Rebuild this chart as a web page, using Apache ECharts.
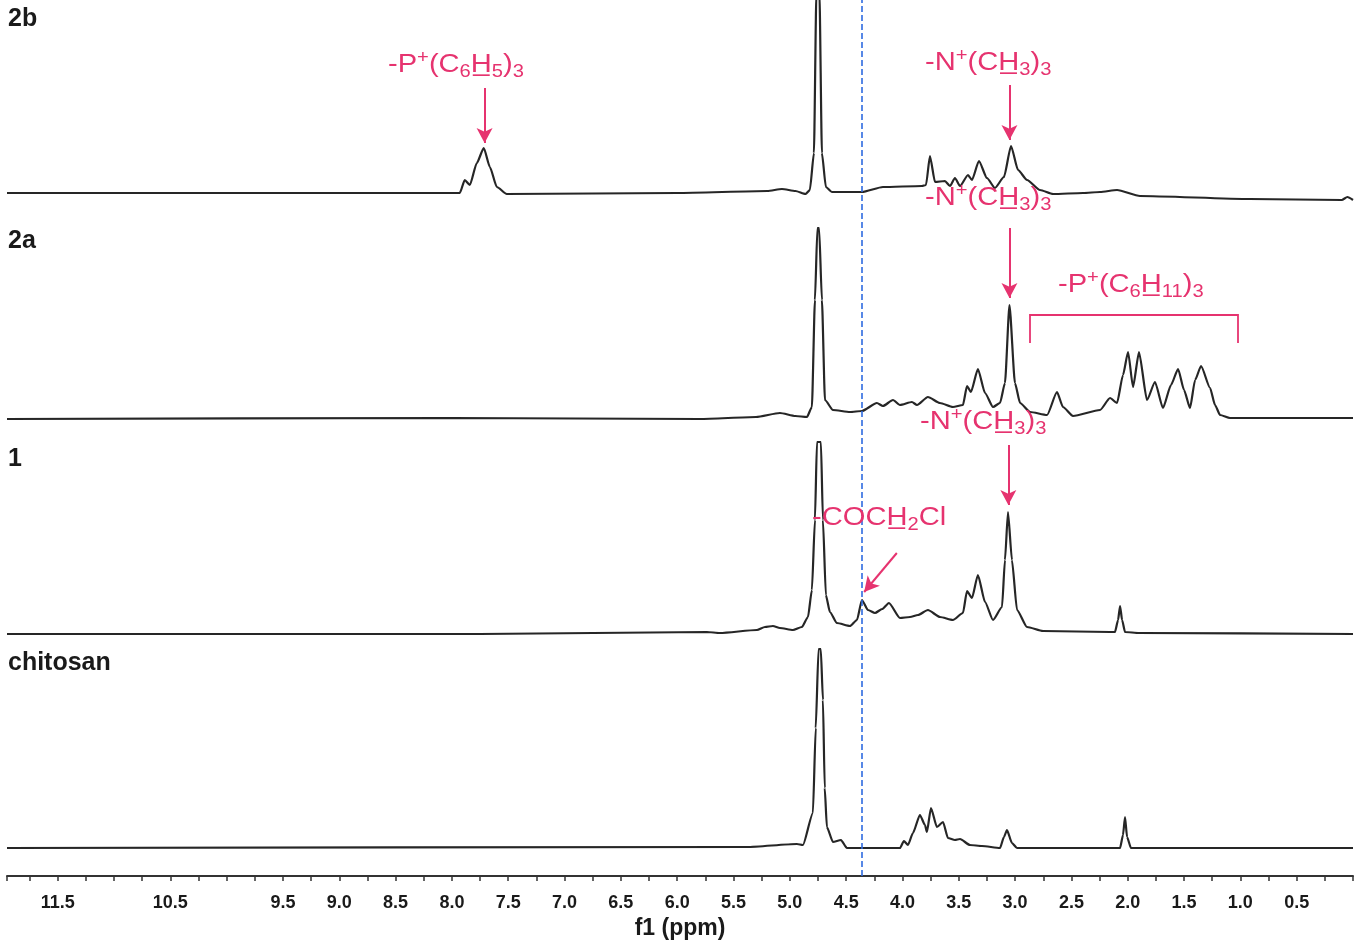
<!DOCTYPE html>
<html>
<head>
<meta charset="utf-8">
<title>1H NMR chitosan</title>
<script src="https://cdn.jsdelivr.net/npm/echarts@6/dist/echarts.min.js"></script>
<style>
  html, body { margin: 0; padding: 0; background: #fff; }
  #chart { width: 1363px; height: 946px; }
</style>
</head>
<body>
<div id="chart"></div>
<script>
// tick labels that show on the ppm axis (11.0 and 10.0 are missing in the original)
const tickLabels = ['11.5', '10.5', '9.5', '9.0', '8.5', '8.0', '7.5', '7.0', '6.5', '6.0', '5.5',
  '5.0', '4.5', '4.0', '3.5', '3.0', '2.5', '2.0', '1.5', '1.0', '0.5'];

// trace names, top to bottom, and where each baseline sits on the hidden y scale
const traceNames = ['2b', '2a', '1', 'chitosan'];
const offsets = [683, 458, 243, 28];

// 2b
const ppm2b = [11.95, 9.0, 7.93, 7.886, 7.841, 7.779, 7.717, 7.663, 7.601, 7.513, 6.0, 5.2, 5.07, 4.95, 4.86,
  4.822, 4.786, 4.764, 4.737, 4.715, 4.680, 4.626, 4.555, 4.360, 4.173, 3.827, 3.791, 3.756, 3.711, 3.623,
  3.578, 3.534, 3.489, 3.418, 3.383, 3.321, 3.250, 3.179, 3.099, 3.036, 2.974, 2.894, 2.779, 2.663, 2.397,
  2.246, 2.095, 1.891, 0.914, 0.10, 0.05, 0.0];
const int2b = [0, 0, 0, 13, 8, 30, 45, 26, 6, -1, 0, 2, 4, 2, -1,
  3, 40, 200, 200, 40, 6, 1, 1, 1, 6, 7, 8, 37, 11, 12,
  7, 15, 7, 18, 13, 32, 15, 5, 16, 47, 23, 13, 3, -1, 0,
  1, 3, -3, -6, -7, -4, -7];

// 2a
const ppm2a = [11.95, 8.0, 5.798, 5.30, 5.088, 4.95, 4.848, 4.804, 4.777, 4.755, 4.740, 4.715, 4.688, 4.617,
  4.466, 4.360, 4.227, 4.173, 4.084, 4.022, 3.916, 3.871, 3.774, 3.667, 3.552, 3.463, 3.427, 3.392, 3.330,
  3.267, 3.196, 3.134, 3.090, 3.050, 3.001, 2.956, 2.867, 2.716, 2.628, 2.575, 2.486, 2.246, 2.157, 2.095,
  2.042, 1.997, 1.953, 1.900, 1.829, 1.758, 1.687, 1.616, 1.553, 1.500, 1.447, 1.402, 1.349, 1.269, 1.225,
  1.180, 1.092, 0.0];
const int2a = [-1, 0, -1, 1, 5, 2, 1, 11, 118, 190, 190, 118, 18, 8,
  6, 7, 15, 12, 18, 13, 16, 13, 21, 15, 11, 13, 32, 26, 49,
  25, 11, 15, 35, 113, 35, 15, 6, 3, 26, 11, 2, 8, 20, 15,
  43, 66, 31, 66, 18, 36, 10, 33, 49, 28, 10, 38, 52, 30, 13,
  3, 0, 0];

// 1
const ppm1 = [11.95, 7.752, 5.736, 5.621, 5.292, 5.221, 5.150, 5.088, 4.972, 4.893, 4.839, 4.804, 4.777,
  4.759, 4.724, 4.706, 4.680, 4.644, 4.582, 4.466, 4.404, 4.360, 4.306, 4.244, 4.180, 4.120, 4.022, 3.933,
  3.862, 3.774, 3.667, 3.552, 3.463, 3.427, 3.383, 3.330, 3.267, 3.196, 3.116, 3.090, 3.063, 3.028, 2.983,
  2.894, 2.752, 2.157, 2.113, 2.086, 2.068, 2.050, 2.024, 1.900, 0.0];
const int1 = [-1, -1, 1, 0, 3, 6, 7, 5, 3, 6, 16, 43, 113,
  191, 191, 113, 38, 21, 10, 7, 13, 33, 23, 20, 24, 30, 15, 16,
  18, 23, 16, 13, 20, 42, 35, 58, 31, 13, 26, 73, 121, 73, 23,
  6, 2, 1, 1, 13, 27, 13, 1, 0, -1];

// chitosan
const ppmC = [11.95, 5.381, 4.937, 4.884, 4.795, 4.770, 4.745, 4.725, 4.706, 4.690, 4.671, 4.617, 4.546,
  4.493, 4.022, 3.987, 3.951, 3.907, 3.845, 3.800, 3.783, 3.747, 3.694, 3.640, 3.596, 3.534, 3.489, 3.401,
  3.294, 3.134, 3.099, 3.072, 3.028, 2.983, 2.068, 2.042, 2.024, 2.006, 1.971, 0.0];
const intC = [0, 1, 4, 3, 35, 120, 199, 199, 148, 60, 21, 6, 8,
  0, 0, 7, 3, 15, 33, 23, 16, 40, 21, 26, 10, 8, 9, 3,
  2, 0, 11, 18, 5, 0, 0, 13, 31, 11, 0, 0];

const ppmAll = [ppm2b, ppm2a, ppm1, ppmC];
const intAll = [int2b, int2a, int1, intC];

// dashed reference line and arrows ([ppm, y] pairs on the same scale)
const refLine = 4.36;
const arrows = [
  [[7.71, 788], [7.71, 733]],
  [[3.05, 791], [3.05, 736]],
  [[3.05, 648], [3.05, 578]],
  [[3.06, 431], [3.06, 371]],
  [[4.05, 323], [4.34, 284]]
];
const bracket = [
  [[2.87, 561], [1.02, 561]],
  [[2.87, 562], [2.87, 533]],
  [[1.02, 562], [1.02, 533]]
];

const pink = '#e6336f';
const chart = echarts.init(document.getElementById('chart'));

const rich = {
  b: { fontSize: 26, fontFamily: 'Liberation Sans', fill: pink, lineHeight: 32 },
  sup: { fontSize: 18, fontFamily: 'Liberation Sans', fill: pink, lineHeight: 14, verticalAlign: 'top' },
  sub: { fontSize: 18, fontFamily: 'Liberation Sans', fill: pink, lineHeight: 14, verticalAlign: 'bottom' }
};
const nme3 = '{b|-N}{sup|+}{b|(CH\u0332}{sub|3}{b|)}{sub|3}';
function note(x, y, txt) {
  return { type: 'text', left: x, top: y, scaleX: 1.12, silent: true, z: 10,
    style: { text: txt, rich: rich } };
}
function lbl(y, txt) {
  return { type: 'text', left: 8, top: y, silent: true, style: { text: txt, fill: '#1a1a1a',
    font: 'bold 25px "Liberation Sans"' } };
}

const series = traceNames.map(function (name, k) {
  return {
    name: name,
    type: 'line',
    showSymbol: false,
    smooth: 0.2,
    smoothMonotone: 'x',
    clip: true,
    lineStyle: { color: '#262626', width: 2.2 },
    data: ppmAll[k].map(function (p, i) { return [p, offsets[k] + intAll[k][i]]; })
  };
});

// annotation lines go on the chitosan series
series[3].markLine = {
  silent: true,
  animation: false,
  label: { show: false },
  data: [
    [{ xAxis: refLine, yAxis: 0, symbol: 'none', lineStyle: { color: '#2f6be0', width: 1.6, type: [6, 3] } },
      { xAxis: refLine, yAxis: 876, symbol: 'none' }]
  ].concat(arrows.map(function (a) {
    return [{ coord: a[0], symbol: 'none', lineStyle: { color: pink, width: 2, type: 'solid' } },
      { coord: a[1], symbol: 'arrow', symbolSize: [12, 15] }];
  })).concat(bracket.map(function (a) {
    return [{ coord: a[0], symbol: 'none', lineStyle: { color: pink, width: 1.8, type: 'solid' } },
      { coord: a[1], symbol: 'none' }];
  }))
};

chart.setOption({
  animation: false,
  backgroundColor: '#fff',
  grid: { left: 7, right: 10, top: 0, bottom: 70 },
  xAxis: {
    type: 'value',
    inverse: true,
    min: 0,
    max: 11.95,
    interval: 0.25,
    name: 'f1 (ppm)',
    nameLocation: 'middle',
    nameGap: 41,
    nameTextStyle: { fontSize: 23, fontWeight: 'bold', color: '#1a1a1a', fontFamily: 'Liberation Sans' },
    axisLine: { lineStyle: { color: '#333', width: 2 } },
    axisTick: { length: 5, lineStyle: { color: '#333', width: 1.5 } },
    axisLabel: {
      margin: 18,
      fontSize: 18,
      fontWeight: 'bold',
      color: '#1a1a1a',
      fontFamily: 'Liberation Sans',
      formatter: function (v) {
        const s = (Math.round(v * 100) / 100).toFixed(1);
        if (Math.abs(v * 2 - Math.round(v * 2)) > 1e-6) return '';
        return tickLabels.indexOf(s) >= 0 ? s : '';
      }
    },
    splitLine: { show: false }
  },
  yAxis: { type: 'value', min: 0, max: 876, show: false },
  graphic: [
    lbl(7, traceNames[0]),
    lbl(229, traceNames[1]),
    lbl(447, traceNames[2]),
    lbl(651, traceNames[3]),
    note(388, 49, '{b|-P}{sup|+}{b|(C}{sub|6}{b|H\u0332}{sub|5}{b|)}{sub|3}'),
    note(925, 47, nme3),
    note(925, 182, nme3),
    note(1058, 269, '{b|-P}{sup|+}{b|(C}{sub|6}{b|H\u0332}{sub|11}{b|)}{sub|3}'),
    note(920, 406, nme3),
    note(812, 505, '{b|-COCH\u0332}{sub|2}{b|Cl}')
  ],
  series: series
});
</script>
</body>
</html>
